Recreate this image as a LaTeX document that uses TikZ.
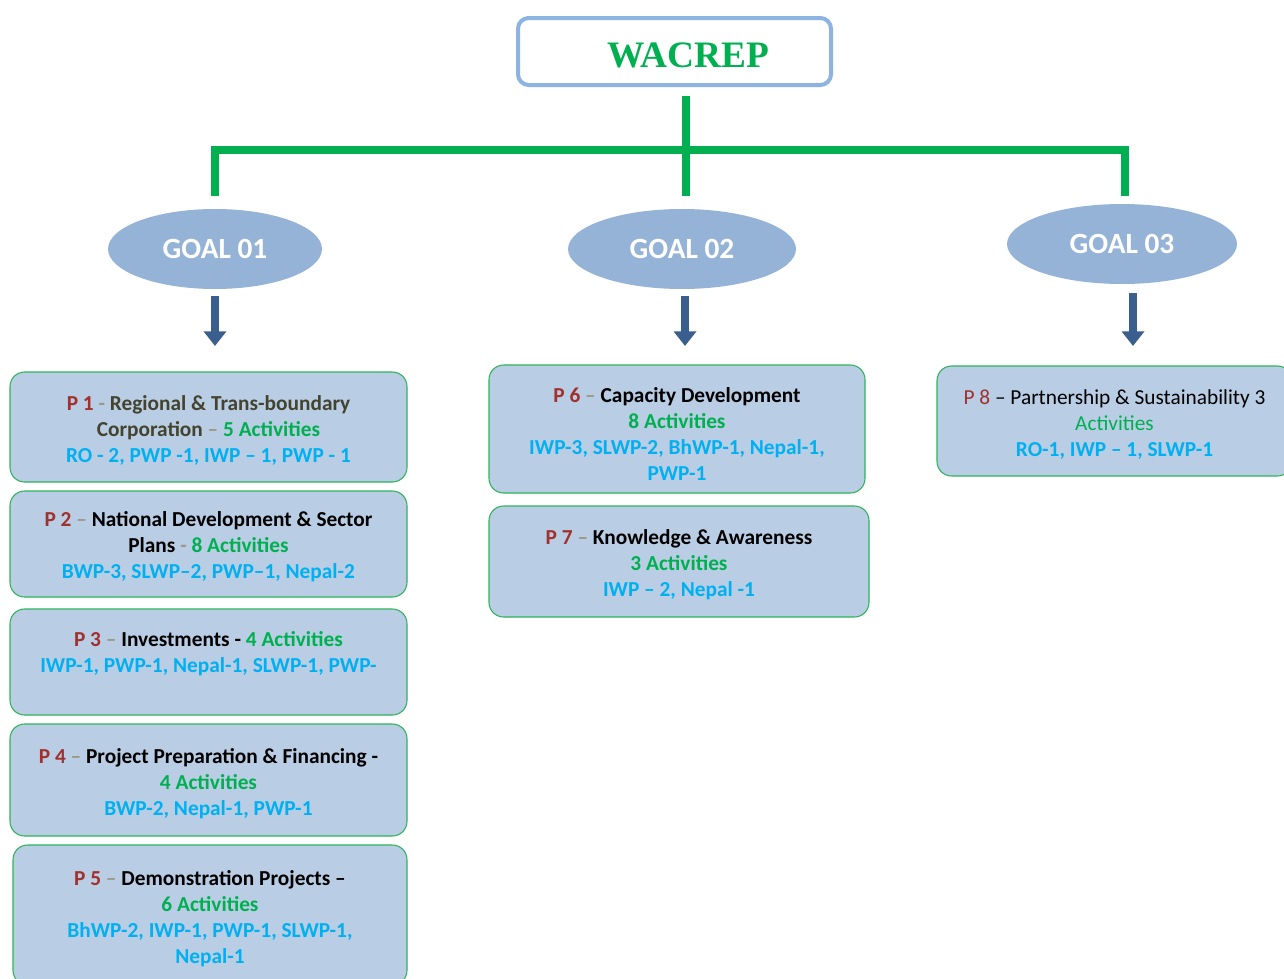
\documentclass[tikz,border=0pt]{standalone}
\usepackage{fontspec}
\setmainfont{Carlito}
\newfontfamily\titleserif{Liberation Serif}
\usetikzlibrary{shapes.geometric,arrows.meta}
\definecolor{lineg}{HTML}{00B050}
\definecolor{goalfill}{HTML}{95B3D7}
\definecolor{arrowb}{HTML}{3A5F8E}
\definecolor{boxfill}{HTML}{B9CDE5}
\definecolor{boxline}{HTML}{2EB25A}
\definecolor{pred}{HTML}{A0312D}
\definecolor{dashg}{HTML}{9A9A86}
\definecolor{olive}{HTML}{44442E}
\definecolor{actg}{HTML}{00B050}
\definecolor{codeb}{HTML}{00B0F0}
\definecolor{titleline}{HTML}{8DB3E2}
\newcommand{\pr}[1]{\textcolor{pred}{#1}}
\newcommand{\dg}[1]{\textcolor{dashg}{#1}}
\newcommand{\ac}[1]{\textcolor{actg}{#1}}
\newcommand{\cb}[1]{\textcolor{codeb}{#1}}
\newcommand{\tp}{\rule{0pt}{16pt}}
\newcommand{\tpp}{\rule{0pt}{18pt}}
\tikzset{
  x=0.75pt,y=-0.75pt,
  greenline/.style={draw=lineg,line width=6pt},
  goal/.style={ellipse,fill=goalfill,draw=none,minimum height=60pt,text=white,font=\fontsize{22}{25}\selectfont\bfseries,inner sep=0pt},
  pbox/.style={rectangle,rounded corners=11pt,fill=boxfill,draw=boxline,line width=0.8pt,align=center,inner sep=0pt,font=\fontsize{16}{19.5}\selectfont\bfseries},
  downarrow/.style={draw=arrowb,line width=6.5pt,-{Triangle[width=16.5pt,length=11pt]}},
}
\begin{document}
\begin{tikzpicture}
\useasboundingbox (0,0) rectangle (1284,978);
\clip (0,0) rectangle (1284,978);
% title
\node[rectangle,rounded corners=8pt,draw=titleline,line width=3pt,fill=white,minimum width=234.75pt,minimum height=50.25pt] (title) at (674.5,51.5) {};
\node[text=lineg,font=\titleserif\fontsize{28}{32}\selectfont\bfseries,inner sep=0pt] (titletext) at (688,55) {WACREP};
% goals
\node[goal,minimum width=160.5pt] (g1) at (215,249) {GOAL 01};
\node[goal,minimum width=171pt] (g2) at (682,249) {GOAL 02};
\node[goal,minimum width=172.5pt] (g3) at (1122,244) {GOAL 03};
% green connectors
\coordinate (tb) at (686,96);
\coordinate (hj) at (686,150);
\coordinate (d1) at (215,196);
\coordinate (d2) at (686,196);
\coordinate (d3) at (1125,196);
\draw[greenline] (tb) -- (d2);
\draw[greenline,line join=miter] (d1) |- (hj) -| (d3);
% boxes
\node[pbox,minimum width=297.75pt,minimum height=82.5pt] (p1) at (208.5,427) {\tp\pr{P 1} \dg{-} \textcolor{olive}{Regional \& Trans-boundary}\\\textcolor{olive}{Corporation} \dg{–} \ac{5 Activities}\\\cb{RO - 2, PWP -1, IWP – 1, PWP - 1}};
\node[pbox,minimum width=297.75pt,minimum height=79.5pt] (p2) at (208.5,544) {\tp\pr{P 2} \dg{–} National Development \& Sector\\Plans \dg{-} \ac{8 Activities}\\\cb{BWP-3, SLWP–2, PWP–1, Nepal-2}};
\node[pbox,minimum width=297.75pt,minimum height=79.5pt] (p3) at (208.5,662) {\tp\pr{P 3} \dg{–} Investments - \ac{4 Activities}\\\cb{IWP-1, PWP-1, Nepal-1, SLWP-1, PWP-}\\\mbox{}};
\node[pbox,minimum width=297.75pt,minimum height=84pt] (p4) at (208.5,780) {\tp\pr{P 4} \dg{–} Project Preparation \& Financing -\\\ac{4 Activities}\\\cb{BWP-2, Nepal-1, PWP-1}};
\node[pbox,minimum width=295.5pt,minimum height=105pt] (p5) at (210,915) {\tp\pr{P 5} \dg{–} Demonstration Projects –\\\ac{6 Activities}\\\cb{BhWP-2, IWP-1, PWP-1, SLWP-1,}\\\cb{Nepal-1}};
\node[pbox,minimum width=282pt,minimum height=96pt] (p6) at (677,429) {\tpp\pr{P 6} \dg{–} Capacity Development\\\ac{8 Activities}\\\cb{IWP-3, SLWP-2, BhWP-1, Nepal-1,}\\\cb{PWP-1}};
\node[pbox,minimum width=285pt,minimum height=83.25pt] (p7) at (679,561.5) {\tp\pr{P 7} \dg{–} Knowledge \& Awareness\\\ac{3 Activities}\\\cb{IWP – 2, Nepal -1}};
\node[pbox,font=\fontsize{16}{19.5}\selectfont,minimum width=266.25pt,minimum height=82.5pt] (p8) at (1114.5,421) {\tp\pr{P 8} – Partnership \& Sustainability 3\\\ac{Activities}\\\cb{\bfseries RO-1, IWP – 1, SLWP-1}};
% arrows
\coordinate (a1s) at (215,296); \coordinate (a1e) at (215,346);
\coordinate (a2s) at (685,296); \coordinate (a2e) at (685,346);
\coordinate (a3s) at (1133,293); \coordinate (a3e) at (1133,346);
\draw[downarrow] (a1s) -- (a1e);
\draw[downarrow] (a2s) -- (a2e);
\draw[downarrow] (a3s) -- (a3e);
\end{tikzpicture}
\end{document}
